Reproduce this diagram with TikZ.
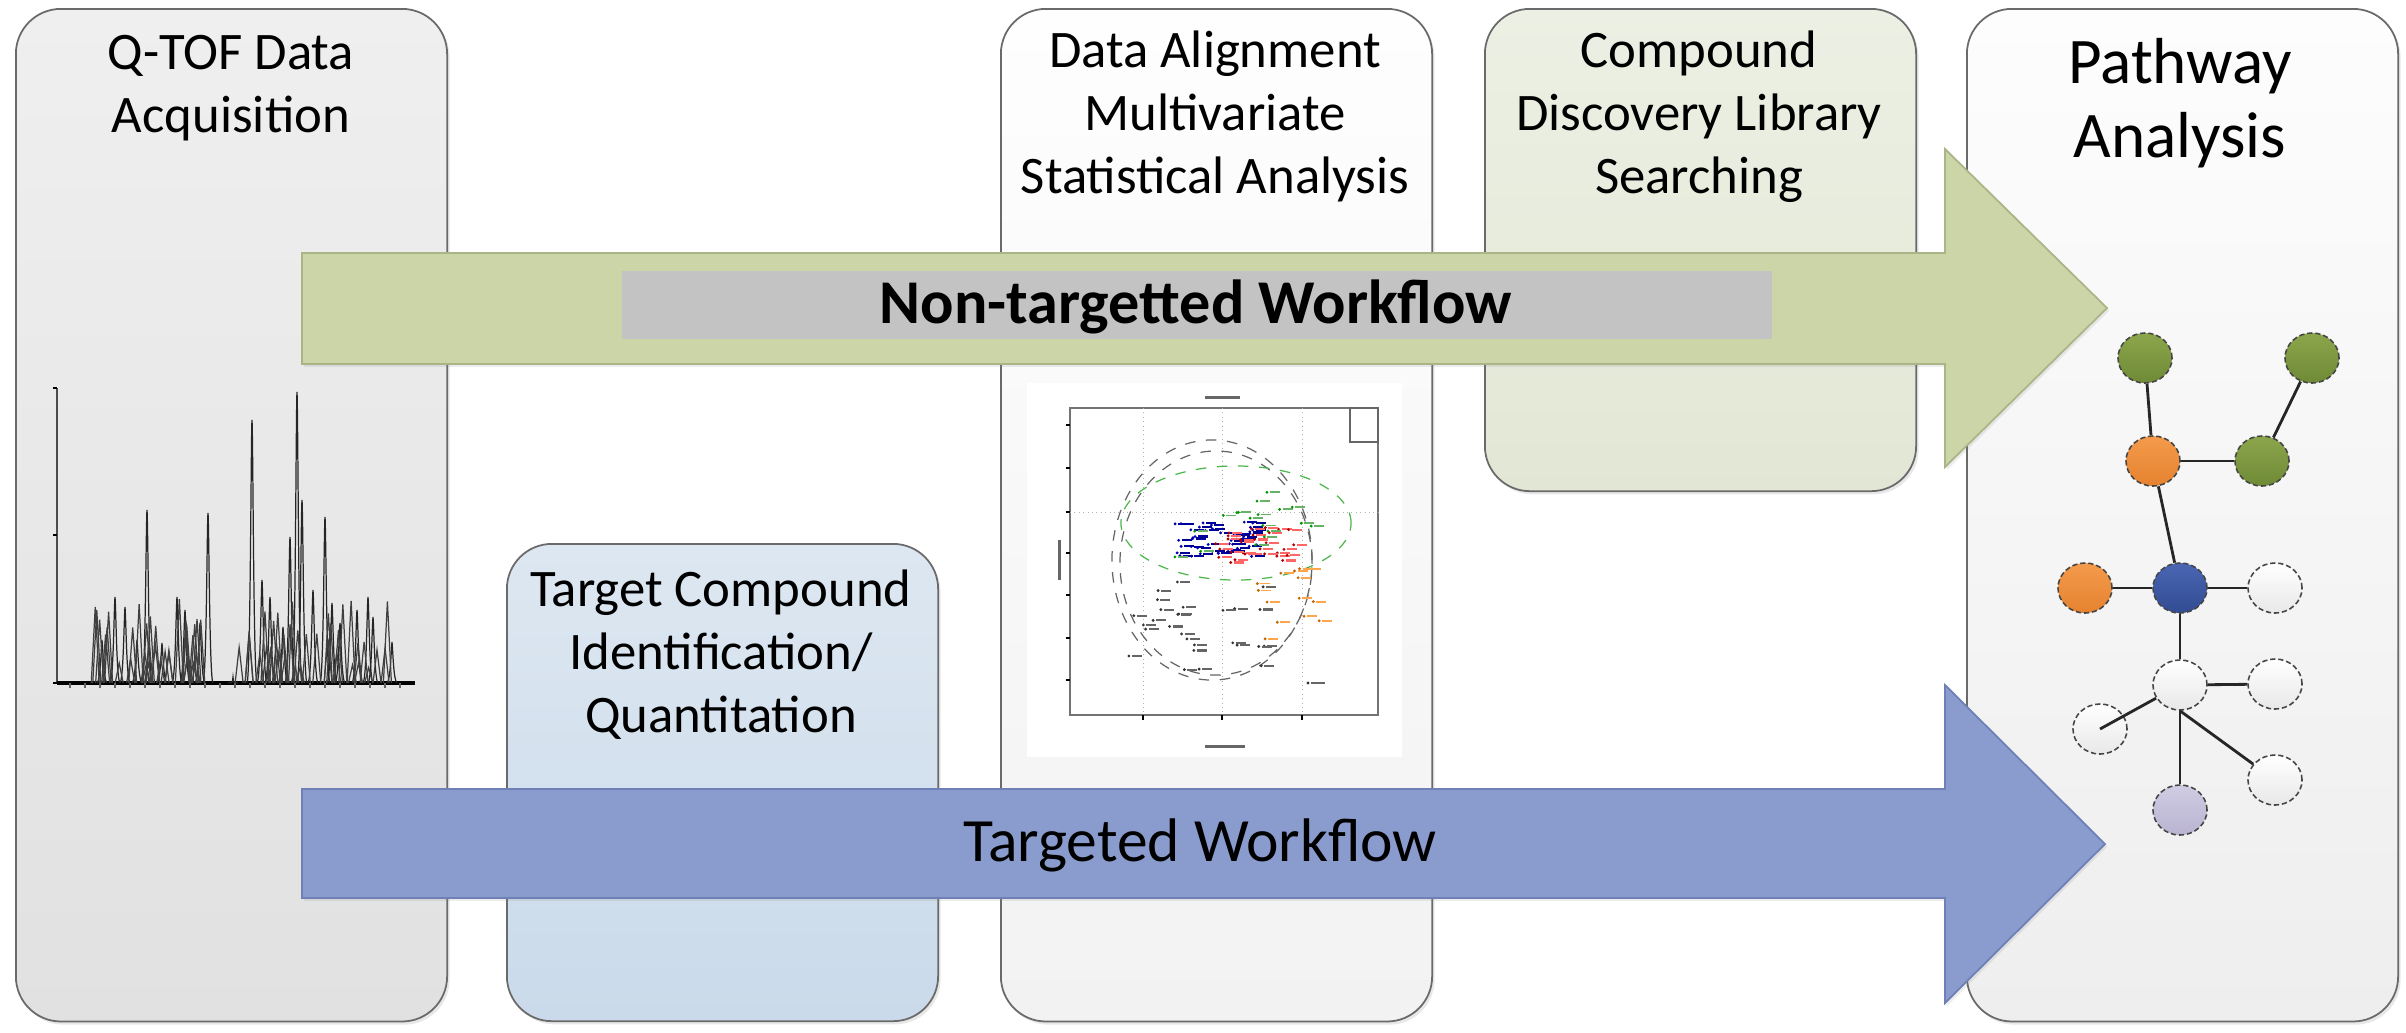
\documentclass[tikz,border=0pt]{standalone}
\usepackage{fontspec}
\setmainfont{Carlito}
\usetikzlibrary{shapes.geometric,shadows}

\definecolor{boxline}{HTML}{6A6A6A}
\definecolor{qtop}{HTML}{EFEFEF}\definecolor{qbot}{HTML}{E1E1E1}
\definecolor{ttop}{HTML}{DDE7F1}\definecolor{tbot}{HTML}{CADAEA}
\definecolor{dtop}{HTML}{FEFEFE}\definecolor{dbot}{HTML}{F2F2F2}
\definecolor{ctop}{HTML}{ECF0E4}\definecolor{cbot}{HTML}{E2E7D5}
\definecolor{ptop}{HTML}{FDFDFD}\definecolor{pbot}{HTML}{EEEEEE}
\definecolor{agreen}{HTML}{CCD5A8}\definecolor{agreenline}{HTML}{A9B487}
\definecolor{ablue}{HTML}{8A9CCD}\definecolor{ablueline}{HTML}{6E80B6}
\definecolor{barg}{HTML}{C3C3C3}
\definecolor{ngreenT}{HTML}{8CA64C}\definecolor{ngreenB}{HTML}{6F8A36}
\definecolor{norangeT}{HTML}{F49B4C}\definecolor{norangeB}{HTML}{E5822F}
\definecolor{nblueT}{HTML}{4A66B3}\definecolor{nblueB}{HTML}{324C93}
\definecolor{nlavT}{HTML}{D0CCE3}\definecolor{nlavB}{HTML}{B9B3D1}
\definecolor{nwhiteB}{HTML}{E8E8E8}

\begin{document}
\begin{tikzpicture}[x=0.01cm,y=-0.01cm,
  stage/.style={draw=boxline, line width=0.5pt, rounded corners=0.45cm,
    minimum width=4.31cm, anchor=north west, inner sep=0pt,
    drop shadow={opacity=0.18, shadow xshift=0.7pt, shadow yshift=-0.9pt}},
  stagelabel/.style={font=\fontsize{15}{17.8}\selectfont, align=center, anchor=base, inner sep=0pt},
  flowarrow/.style={line width=0.5pt, drop shadow={opacity=0.15, shadow xshift=0.6pt, shadow yshift=-0.8pt}},
  chrom/.style={line width=0.35pt, black!85},
  gnode/.style={ellipse, draw=gray!55!black, dash pattern=on 1.5pt off 0.8pt,
    line width=0.45pt, minimum width=0.54cm, minimum height=0.5cm, inner sep=0pt},
  gedge/.style={line width=0.8pt, black!85}]

\fill[white] (0,0) rectangle (2406,1032);
\useasboundingbox (0,0) rectangle (2406,1032);

% ---------- stage boxes ----------
\node[stage, minimum height=10.12cm, top color=qtop, bottom color=qbot] (b1) at (15,8) {};
\node[stage, minimum height=4.77cm, top color=ttop, bottom color=tbot] (b2) at (506,543) {};
\node[stage, minimum height=10.12cm, top color=dtop, bottom color=dbot] (b3) at (1000,8) {};
\node[stage, minimum height=4.82cm, top color=ctop, bottom color=cbot] (b4) at (1484,8) {};
\node[stage, minimum height=10.12cm, top color=ptop, bottom color=pbot] (b5) at (1966,8) {};

% ---------- stage labels (anchored at the baseline of the last line) ----------
\node[stagelabel] (l1) at (231,132) {Q-TOF Data\\Acquisition};
\node[stagelabel] (l2) at (721,732) {Target Compound\\Identification/\\Quantitation};
\node[stagelabel] (l3) at (1215,193) {Data Alignment\\Multivariate\\Statistical Analysis};
\node[stagelabel] (l4) at (1699,193) {Compound\\Discovery Library\\Searching};
\node[stagelabel, font=\fontsize{18.5}{21}\selectfont] (l5) at (2180,157) {Pathway\\Analysis};

% ---------- chromatogram ----------
\draw[line width=0.4pt, black!70] (57,388) -- (57,683);
\draw[line width=0.9pt, black] (57,683) -- (415,683);
\foreach \ty in {388,535,683}{\draw[line width=0.3pt] (53,\ty) -- (57,\ty);}
\foreach \tx in {70,85,...,410}{\draw[line width=0.3pt, black!60] (\tx,683) -- (\tx,688);}
\foreach \px/\py in {102/640,115/597,125/607,137/640,147/510,162/643,177/597,185/610,
  200/623,208/513,233/677,252/420,262/580,270/597,283/627,290/537,297/392,302/500,
  313/590,325/517,332/603,340/623,357/610,368/597,373/617,392/642}{
  \draw[chrom] (\px-5,683) .. controls (\px-1.5,680) and (\px-1,\py+10) .. (\px,\py)
    .. controls (\px+1,\py+10) and (\px+1.5,680) .. (\px+5,683);
}
\pgfmathsetseed{11}
\foreach \i in {1,...,70}{
  \pgfmathsetmacro\cx{95+300*rnd}
  \pgfmathsetmacro\cy{683-15-70*rnd}
  \draw[chrom, black!75] (\cx-4,683) -- (\cx,\cy) -- (\cx+4,683);
}

% ---------- score plot ----------
\fill[white] (1027,383) rectangle (1402,757);
\draw[line width=0.4pt, black!55] (1070,408) rectangle (1378,715);
\draw[line width=0.3pt, black!60] (1350,408) rectangle (1378,442);
\foreach \gx in {1143,1222,1302}{\draw[densely dotted, line width=0.25pt, black!30] (\gx,408) -- (\gx,715);
  \draw[line width=0.3pt] (\gx,715) -- (\gx,720);}
\foreach \gy in {425,468,512,553,595,638,680}{\draw[line width=0.3pt] (1066,\gy) -- (1070,\gy);}
\draw[densely dotted, line width=0.25pt, black!30] (1070,512) -- (1378,512);
\fill[black!60] (1205,396) rectangle (1240,399);
\fill[black!60] (1205,745) rectangle (1245,748);
\fill[black!60] (1058,540) rectangle (1061,580);
\draw[dashed, line width=0.35pt, black!60] (1212,560) ellipse [x radius=1.00cm, y radius=1.20cm];
\draw[dashed, line width=0.35pt, black!60] (1216,563) ellipse [x radius=0.96cm, y radius=1.12cm];
\draw[dashed, line width=0.35pt, green!60!black!70] (1236,523) ellipse [x radius=1.15cm, y radius=0.57cm];
\pgfmathsetseed{5}
\foreach \i in {1,...,45}{
  \pgfmathsetmacro\dx{1215+45*rand}\pgfmathsetmacro\dy{540+18*rand}
  \fill[blue!70!black] (\dx,\dy) circle[radius=0.45pt];
  \draw[blue!60!black, line width=0.6pt] (\dx+3,\dy) -- (\dx+13,\dy);
}
\foreach \i in {1,...,30}{
  \pgfmathsetmacro\dx{1255+40*rand}\pgfmathsetmacro\dy{545+18*rand}
  \fill[red!70!black] (\dx,\dy) circle[radius=0.45pt];
  \draw[red!60, line width=0.6pt] (\dx+3,\dy) -- (\dx+13,\dy);
}
\foreach \i in {1,...,18}{
  \pgfmathsetmacro\dx{1240+80*rand}\pgfmathsetmacro\dy{525+35*rand}
  \fill[green!60!black] (\dx,\dy) circle[radius=0.45pt];
  \draw[green!50!black!60, line width=0.5pt] (\dx+3,\dy) -- (\dx+13,\dy);
}
\foreach \i in {1,...,28}{
  \pgfmathsetmacro\dx{1200+80*rand}\pgfmathsetmacro\dy{625+45*rand}
  \fill[black!80] (\dx,\dy) circle[radius=0.45pt];
  \draw[black!60, line width=0.6pt] (\dx+3,\dy) -- (\dx+13,\dy);
}
\foreach \i in {1,...,14}{
  \pgfmathsetmacro\dx{1290+40*rand}\pgfmathsetmacro\dy{600+40*rand}
  \fill[orange!80!black] (\dx,\dy) circle[radius=0.45pt];
  \draw[orange!70, line width=0.5pt] (\dx+3,\dy) -- (\dx+13,\dy);
}
\fill[black!80] (1308,683) circle[radius=0.45pt];
\draw[black!60, line width=0.6pt] (1311,683) -- (1325,683);

% ---------- pathway graph ----------
\node[gnode, top color=ngreenT, bottom color=ngreenB] (G1) at (2145,358) {};
\node[gnode, top color=ngreenT, bottom color=ngreenB] (G2) at (2312,358) {};
\node[gnode, top color=norangeT, bottom color=norangeB] (O1) at (2153,461) {};
\node[gnode, top color=ngreenT, bottom color=ngreenB] (G3) at (2262,461) {};
\node[gnode, top color=norangeT, bottom color=norangeB] (O2) at (2085,588) {};
\node[gnode, top color=nblueT, bottom color=nblueB] (B) at (2180,588) {};
\node[gnode, top color=white, bottom color=nwhiteB] (W1) at (2275,588) {};
\node[gnode, top color=white, bottom color=nwhiteB] (W2) at (2180,685) {};
\node[gnode, top color=white, bottom color=nwhiteB] (W3) at (2275,684) {};
\node[gnode, top color=white, bottom color=nwhiteB] (W4) at (2100,729) {};
\node[gnode, top color=white, bottom color=nwhiteB] (W5) at (2275,780) {};
\node[gnode, top color=nlavT, bottom color=nlavB] (L) at (2180,810) {};
\draw[gedge] (G1) -- (O1);
\draw[gedge] (G2) -- (G3);
\draw[gedge] (O1) -- (G3);
\draw[gedge] (O1) -- (B);
\draw[gedge] (O2) -- (B);
\draw[gedge] (B) -- (W1);
\draw[gedge] (B) -- (W2);
\draw[gedge] (W2) -- (W3);
\draw[gedge] (W2) -- (W4.center);
\draw[gedge] (W2.south) -- (L);
\draw[gedge] (W2.south) -- (W5);

% ---------- workflow arrows ----------
\draw[flowarrow, fill=agreen, draw=agreenline]
  (302,253) -- (1945,253) -- (1945,149) -- (2107,308) -- (1945,467) -- (1945,364) -- (302,364) -- cycle;
\draw[flowarrow, fill=ablue, draw=ablueline]
  (302,789) -- (1945,789) -- (1945,685) -- (2105,844) -- (1945,1003) -- (1945,898) -- (302,898) -- cycle;

\node[fill=barg, minimum width=11.5cm, minimum height=0.68cm, anchor=north west, inner sep=0pt] (ntbar) at (621,270) {};
\node[font=\bfseries\fontsize{17.7}{20}\selectfont, anchor=base, inner sep=0pt] (nt) at (1196,323) {Non-targetted Workflow};
\node[font=\fontsize{17.5}{20}\selectfont, anchor=base, inner sep=0pt] (tw) at (1200,861) {Targeted Workflow};

\end{tikzpicture}
\end{document}
